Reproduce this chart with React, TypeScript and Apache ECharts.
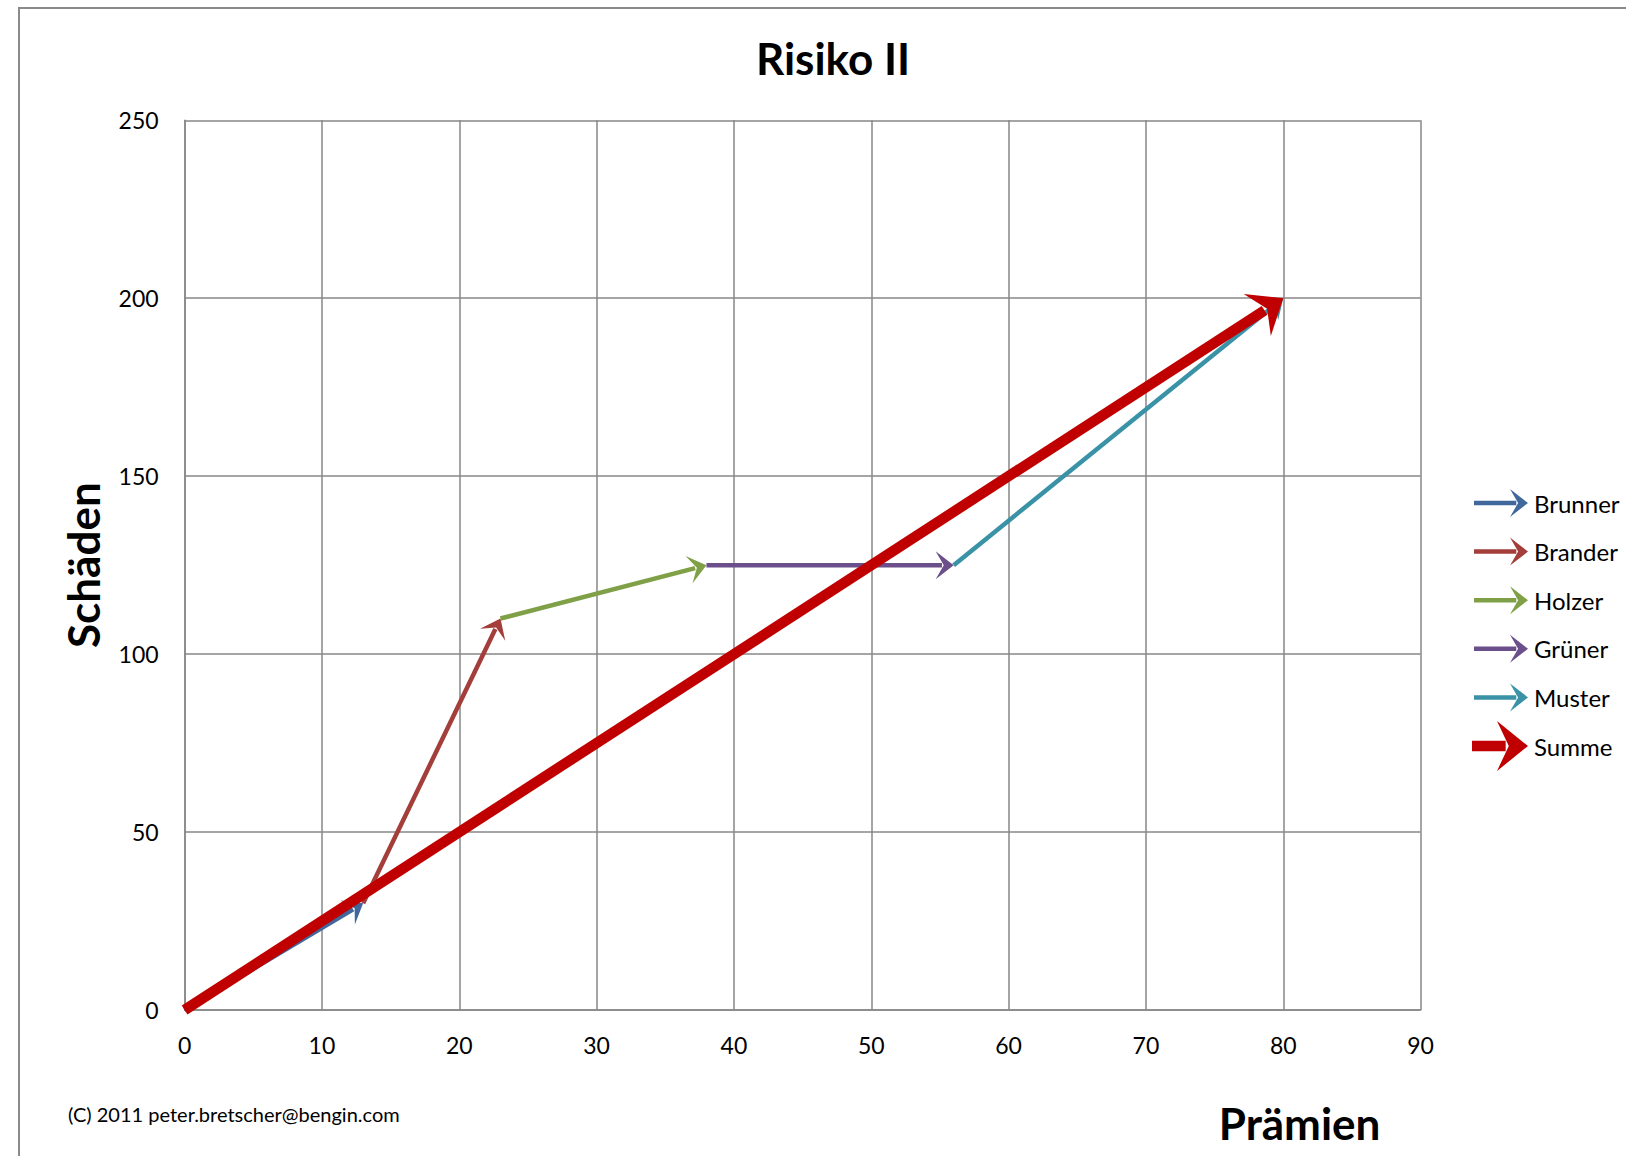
import React, { useEffect, useRef } from "react";
import * as echarts from "echarts";

const seriesNames = ["Brunner", "Brander", "Holzer", "Grüner", "Muster", "Summe"];
const seriesColors = ["#41689C", "#A33E3B", "#7FA046", "#6A4F8A", "#3A92A6", "#C00000"];
const fromX = [0, 13, 23, 38, 56, 0];
const fromY = [0, 30, 110, 125, 125, 0];
const toX = [13, 23, 38, 56, 80, 80];
const toY = [30, 110, 125, 125, 200, 200];

const xTicks = [0, 10, 20, 30, 40, 50, 60, 70, 80, 90];
const yTicks = [0, 50, 100, 150, 200, 250];

const FONT = "Lato, 'Open Sans', sans-serif";
const GRID_COLOR = "#878787";

type ArrowStyle = { shaft: number; len: number; half: number; notch: number };
const thin: ArrowStyle = { shaft: 4.5, len: 18, half: 14, notch: 0.55 };
const thick: ArrowStyle = { shaft: 10.5, len: 31, half: 25, notch: 0.62 };

function arrowParts(a: number[], b: number[], s: ArrowStyle, color: string) {
  const dx = b[0] - a[0];
  const dy = b[1] - a[1];
  const len = Math.hypot(dx, dy) || 1;
  const ux = dx / len;
  const uy = dy / len;
  const px = -uy;
  const py = ux;
  const backX = b[0] - ux * s.len;
  const backY = b[1] - uy * s.len;
  const nX = b[0] - ux * s.len * s.notch;
  const nY = b[1] - uy * s.len * s.notch;
  const shaftEndX = b[0] - ux * s.len * (s.notch + 0.1);
  const shaftEndY = b[1] - uy * s.len * (s.notch + 0.1);
  return [
    {
      type: "line",
      shape: { x1: a[0], y1: a[1], x2: shaftEndX, y2: shaftEndY },
      style: { stroke: color, lineWidth: s.shaft, lineCap: "butt" },
    },
    {
      type: "polygon",
      shape: {
        points: [
          [b[0], b[1]],
          [backX + px * s.half, backY + py * s.half],
          [nX, nY],
          [backX - px * s.half, backY - py * s.half],
        ],
      },
      style: { fill: color },
    },
  ];
}

export default function App() {
  const ref = useRef<HTMLDivElement>(null);

  useEffect(() => {
    if (!ref.current) return;
    const chart = echarts.init(ref.current, null, { renderer: "svg" });

    const series = seriesNames.map((name, i) => {
      const style = name === "Summe" ? thick : thin;
      const color = seriesColors[i];
      return {
        type: "custom",
        name,
        coordinateSystem: "cartesian2d",
        clip: false,
        encode: { x: [0, 2], y: [1, 3] },
        dimensions: ["x0", "y0", "x1", "y1"],
        itemStyle: { color },
        data: [[fromX[i], fromY[i], toX[i], toY[i]]],
        renderItem: (_params: any, api: any) => {
          const a = api.coord([api.value(0), api.value(1)]);
          const b = api.coord([api.value(2), api.value(3)]);
          return { type: "group", children: arrowParts(a, b, style, color) };
        },
      };
    });

    // legend drawn as graphics
    const legendTop = 503;
    const legendGap = 48.6;
    const legendElems: any[] = [];
    seriesNames.forEach((name, i) => {
      const y = legendTop + i * legendGap;
      const style = name === "Summe" ? thick : thin;
      const startX = name === "Summe" ? 1472 : 1474;
      legendElems.push(
        ...arrowParts([startX, y], [1528, y], style, seriesColors[i]).map((e) => ({ ...e, silent: true }))
      );
      legendElems.push({
        type: "text",
        x: 1534,
        y,
        style: {
          text: name,
          fill: "#000",
          font: `24px ${FONT}`,
          textVerticalAlign: "middle",
          verticalAlign: "middle",
        },
      });
    });

    chart.setOption({
      animation: false,
      backgroundColor: "#ffffff",
      title: {
        text: "Risiko II",
        left: 828,
        top: 31,
        textAlign: "center",
        textStyle: { fontFamily: FONT, fontWeight: "bold", fontSize: 44, color: "#000" },
      },
      grid: { left: 184.6, right: 205.4, top: 120.3, bottom: 146, containLabel: false },
      xAxis: {
        type: "value",
        min: xTicks[0],
        max: xTicks[xTicks.length - 1],
        interval: 10,
        name: "Prämien",
        nameLocation: "middle",
        nameGap: 91,
        nameTextStyle: {
          fontFamily: FONT,
          fontWeight: "bold",
          fontSize: 44,
          color: "#000",
          padding: [0, 0, 0, 994],
        },
        axisLine: { show: true, lineStyle: { color: GRID_COLOR, width: 1.5 } },
        axisTick: { show: false },
        axisLabel: { fontFamily: FONT, fontSize: 23, color: "#000", margin: 23 },
        splitLine: { show: true, lineStyle: { color: GRID_COLOR, width: 1.5 } },
      },
      yAxis: {
        type: "value",
        min: yTicks[0],
        max: yTicks[yTicks.length - 1],
        interval: 50,
        name: "Schäden",
        nameLocation: "middle",
        nameGap: 80,
        nameRotate: 90,
        nameTextStyle: { fontFamily: FONT, fontWeight: "bold", fontSize: 44, color: "#000" },
        axisLine: { show: true, lineStyle: { color: GRID_COLOR, width: 1.5 } },
        axisTick: { show: false },
        axisLabel: { fontFamily: FONT, fontSize: 23, color: "#000", margin: 26 },
        splitLine: { show: true, lineStyle: { color: GRID_COLOR, width: 1.5 } },
      },
      graphic: [
        {
          type: "rect",
          silent: true,
          shape: { x: 19, y: 8, width: 1800, height: 1400 },
          style: { fill: "none", stroke: "#8a8a8a", lineWidth: 2 },
        },
        {
          type: "text",
          x: 68,
          y: 1114,
          style: {
            text: "(C) 2011 peter.bretscher@bengin.com",
            fill: "#000",
            font: `20px ${FONT}`,
            verticalAlign: "middle",
          },
        },
        ...legendElems,
      ],
      series,
    });

    return () => chart.dispose();
  }, []);

  return (
    <div
      ref={ref}
      style={{ position: "absolute", left: 0, top: 0, width: 1626, height: 1156 }}
    />
  );
}
